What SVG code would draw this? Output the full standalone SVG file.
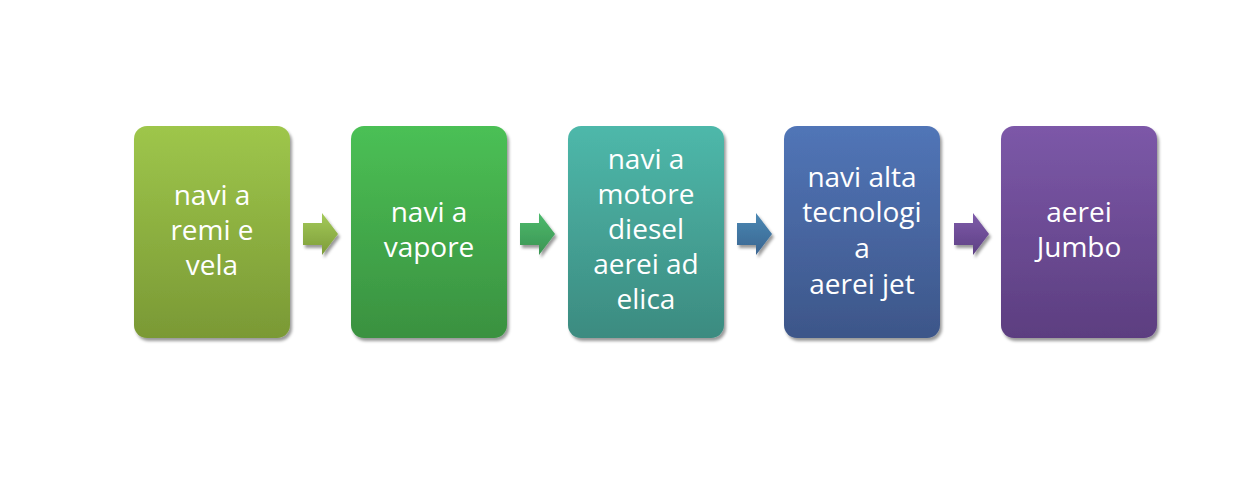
<svg xmlns="http://www.w3.org/2000/svg" width="1233" height="483" viewBox="0 0 1233 483">
<defs>
<linearGradient id="g1" x1="0" y1="0" x2="0" y2="1"><stop offset="0" stop-color="#9EC64B"/><stop offset="1" stop-color="#7A9935"/></linearGradient>
<linearGradient id="g2" x1="0" y1="0" x2="0" y2="1"><stop offset="0" stop-color="#4BC055"/><stop offset="1" stop-color="#3A9140"/></linearGradient>
<linearGradient id="g3" x1="0" y1="0" x2="0" y2="1"><stop offset="0" stop-color="#4EB8AA"/><stop offset="1" stop-color="#3C8B80"/></linearGradient>
<linearGradient id="g4" x1="0" y1="0" x2="0" y2="1"><stop offset="0" stop-color="#5175B7"/><stop offset="1" stop-color="#3D5689"/></linearGradient>
<linearGradient id="g5" x1="0" y1="0" x2="0" y2="1"><stop offset="0" stop-color="#7C58A8"/><stop offset="1" stop-color="#5C3E80"/></linearGradient>
<linearGradient id="a1" x1="0" y1="0" x2="0" y2="1"><stop offset="0" stop-color="#A4CA5A"/><stop offset="1" stop-color="#7D9C38"/></linearGradient>
<linearGradient id="a2" x1="0" y1="0" x2="0" y2="1"><stop offset="0" stop-color="#4DBA6C"/><stop offset="1" stop-color="#3B9453"/></linearGradient>
<linearGradient id="a3" x1="0" y1="0" x2="0" y2="1"><stop offset="0" stop-color="#4A88B3"/><stop offset="1" stop-color="#3A6591"/></linearGradient>
<linearGradient id="a4" x1="0" y1="0" x2="0" y2="1"><stop offset="0" stop-color="#7E5BAA"/><stop offset="1" stop-color="#5E4084"/></linearGradient>
<filter id="sh" x="-10%" y="-10%" width="125%" height="125%">
<feDropShadow dx="2" dy="3" stdDeviation="1.8" flood-color="#000" flood-opacity="0.4"/>
</filter>
<path id="arr" d="M0,-11 H19 V-21 L35,0 L19,21 V11 H0 Z"/>
</defs>
<style>
.box{filter:url(#sh)}
.t{font-family:"Open Sans","Noto Sans","DejaVu Sans",sans-serif;font-size:28px;fill:#FFFFFF;text-anchor:middle}
</style>
<rect width="1233" height="483" fill="#FFFFFF"/>
<g id="connectors" filter="url(#sh)">
<use href="#arr" x="303" y="234" fill="url(#a1)"/>
<use href="#arr" x="520" y="234" fill="url(#a2)"/>
<use href="#arr" x="737" y="234" fill="url(#a3)"/>
<use href="#arr" x="954" y="234" fill="url(#a4)"/>
</g>
<g id="n1">
<rect class="box" x="134" y="126" width="156" height="212" rx="13" fill="url(#g1)"/>
<text class="t" x="212"><tspan x="212" y="205">navi a</tspan><tspan x="212" y="240">remi e</tspan><tspan x="212" y="275">vela</tspan></text>
</g>
<g id="n2">
<rect class="box" x="351" y="126" width="156" height="212" rx="13" fill="url(#g2)"/>
<text class="t" x="429"><tspan x="429" y="222">navi a</tspan><tspan x="429" y="257">vapore</tspan></text>
</g>
<g id="n3">
<rect class="box" x="568" y="126" width="156" height="212" rx="13" fill="url(#g3)"/>
<text class="t" x="646"><tspan x="646" y="169">navi a</tspan><tspan x="646" y="204">motore</tspan><tspan x="646" y="239">diesel</tspan><tspan x="646" y="274">aerei ad</tspan><tspan x="646" y="309">elica</tspan></text>
</g>
<g id="n4">
<rect class="box" x="784" y="126" width="156" height="212" rx="13" fill="url(#g4)"/>
<text class="t" x="862"><tspan x="862" y="187">navi alta</tspan><tspan x="862" y="222">tecnologi</tspan><tspan x="862" y="258">a</tspan><tspan x="862" y="294">aerei jet</tspan></text>
</g>
<g id="n5">
<rect class="box" x="1001" y="126" width="156" height="212" rx="13" fill="url(#g5)"/>
<text class="t" x="1079"><tspan x="1079" y="222">aerei</tspan><tspan x="1079" y="257">Jumbo</tspan></text>
</g>
</svg>
